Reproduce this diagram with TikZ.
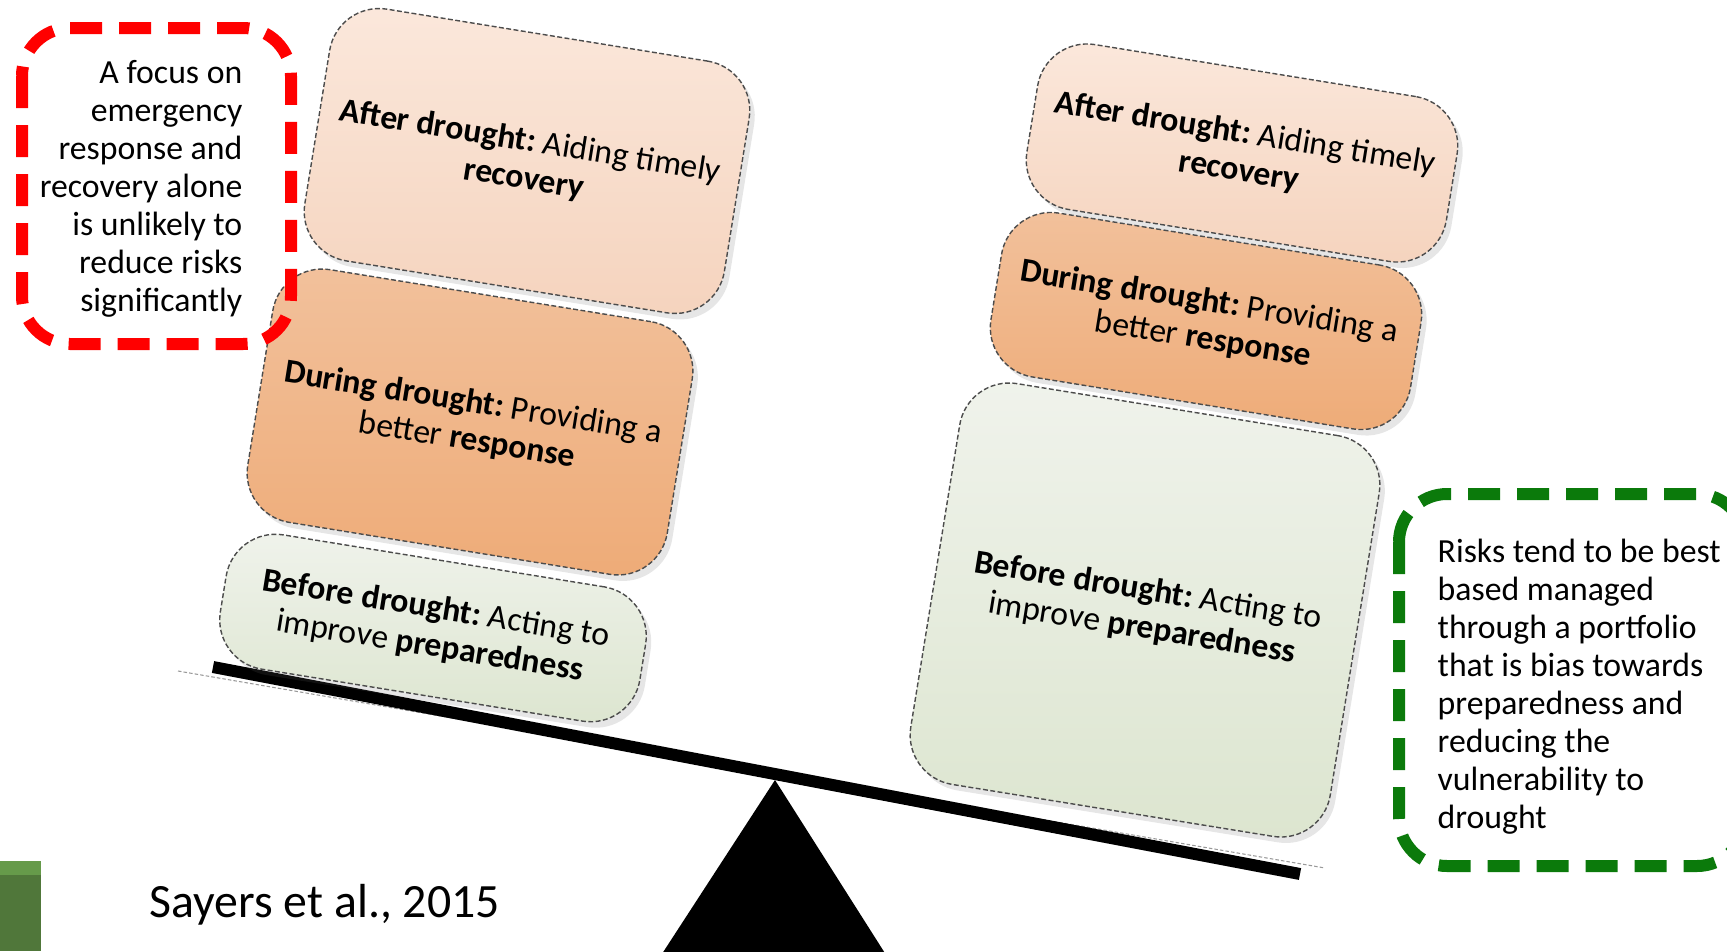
\documentclass[tikz,border=0pt]{standalone}
\usepackage{fontspec}
\setmainfont{Carlito}
\usepackage{xcolor}
\usepackage{tikz}
\usetikzlibrary{shadows}
\frenchspacing
\definecolor{dred}{HTML}{FF0000}
\definecolor{dgreen}{HTML}{0B7A0B}
\definecolor{aftA}{HTML}{FBE8DC}
\definecolor{aftB}{HTML}{F5D3BD}
\definecolor{durA}{HTML}{F2C19C}
\definecolor{durB}{HTML}{EEAB77}
\definecolor{befA}{HTML}{F0F3EC}
\definecolor{befB}{HTML}{DCE5CF}
\definecolor{barA}{HTML}{669A4A}
\definecolor{barB}{HTML}{50773A}
\tikzset{
  stage/.style={rectangle, rounded corners=5mm, rotate=-9.2, draw=black!70,
                line width=0.4pt, dash pattern=on 1.4pt off 0.7pt,
                align=center, inner sep=0pt, minimum width=42.5mm,
                font=\fontsize{9.6}{10.8}\selectfont,
                drop shadow={shadow xshift=0.5mm, shadow yshift=-0.6mm,
                             opacity=0.16, fill=black!60}},
  safter/.style={stage, top color=aftA, bottom color=aftB},
  sduring/.style={stage, top color=durA, bottom color=durB},
  sbefore/.style={stage, top color=befA, bottom color=befB},
  note/.style={rounded corners=4.8mm, line width=1.2mm,
               dash pattern=on 3.2mm off 1.7mm},
  notetxt/.style={inner sep=0pt, font=\fontsize{9.6}{10.8}\selectfont},
}

\begin{document}
\begin{tikzpicture}[x=0.1mm,y=-0.1mm]

  \useasboundingbox (0,0) rectangle (1727,951);
  \clip (0,0) rectangle (1727,951);

  % barra verde no canto
  \fill[barB] (0,861) rectangle (41,951);
  \fill[barA] (0,861) rectangle (41,875);

  % alavanca e apoio
  \coordinate (bE) at (213,667);
  \coordinate (bD) at (1300,874);
  \draw[black!40, line width=0.3pt, dash pattern=on 1pt off 0.6pt]
    (178,671) -- (1325,868);
  \draw[line width=1.2mm] (bE) -- (bD);
  \fill (775,780) -- (645,980) -- (902,980) -- cycle;

  % pilha da esquerda
  \node[sbefore, minimum height=13.6mm] (befL) at (433,628)
    {\textbf{Before drought:} Acting to\\improve \textbf{preparedness}};
  \node[sduring, minimum height=25.6mm] (durL) at (470,422)
    {\textbf{During drought:} Providing a\\better \textbf{response}};
  \node[safter, minimum height=25.5mm] (aftL) at (527,161)
    {\textbf{After drought:} Aiding timely\\\textbf{recovery}};

  % pilha da direita
  \node[sbefore, minimum height=40.6mm] (befR) at (1145,610)
    {\textbf{Before drought:} Acting to\\improve \textbf{preparedness}};
  \node[sduring, minimum height=16.6mm] (durR) at (1206,321)
    {\textbf{During drought:} Providing a\\better \textbf{response}};
  \node[safter, minimum height=16.7mm] (aftR) at (1242,153)
    {\textbf{After drought:} Aiding timely\\\textbf{recovery}};

  % notas tracejadas
  \draw[note, dred] (22,28) rectangle (291,344);
  \node[notetxt, align=right, anchor=east] (notaE) at (243,189)
    {A focus on\\emergency\\response and\\recovery alone\\is unlikely to\\reduce risks\\significantly};

  \draw[note, dgreen] (1399,494) rectangle (1745,866);
  \node[notetxt, align=left, anchor=west] (notaD) at (1437,687)
    {Risks tend to be best\\based managed\\through a portfolio\\that is bias towards\\preparedness and\\reducing the\\vulnerability to\\drought};

  % referência
  \node[anchor=west, inner sep=0pt, font=\fontsize{13.6}{16}\selectfont]
    (fonte) at (149,905) {Sayers et al., 2015};

\end{tikzpicture}
\end{document}
